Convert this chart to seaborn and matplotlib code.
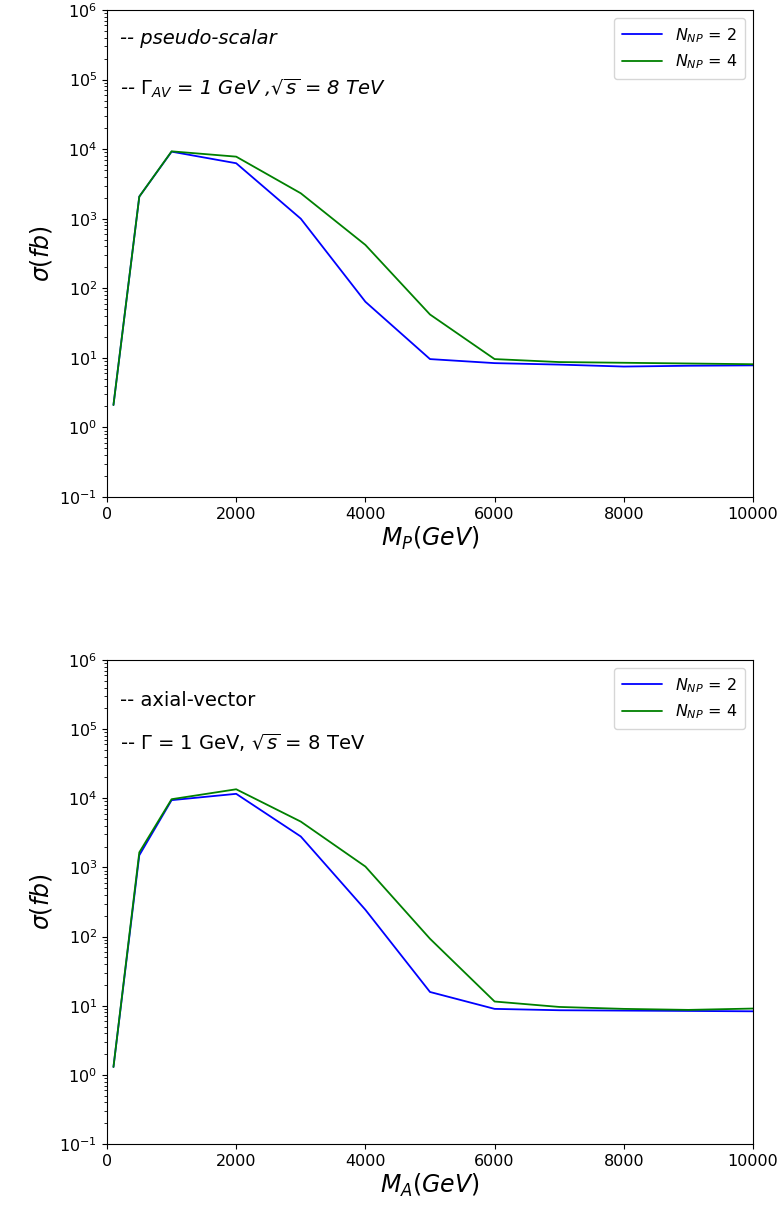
import numpy as np
import pandas as pd
import matplotlib
matplotlib.use("Agg")
import matplotlib.pyplot as plt
import seaborn as sns

mass = [100, 500, 1000, 2000, 3000, 4000, 5000, 6000, 7000, 8000, 9000, 10000]
pseudo_np2 = [2.1, 2080, 9200, 6270, 1000, 64, 9.6, 8.4, 8.0, 7.5, 7.7, 7.8]
pseudo_np4 = [2.1, 2080, 9300, 7800, 2320, 420, 42, 9.6, 8.7, 8.5, 8.3, 8.1]
axial_np2 = [1.3, 1500, 9400, 11600, 2800, 244, 15.8, 9.0, 8.6, 8.5, 8.4, 8.3]
axial_np4 = [1.3, 1650, 9700, 13500, 4600, 1030, 93, 11.5, 9.6, 9.0, 8.7, 9.1]
labels = [r'$N_{NP}$ = 2', r'$N_{NP}$ = 4']
colors = ['blue', 'green']
xticks = [0, 2000, 4000, 6000, 8000, 10000]

sns.set_style("ticks")
plt.rcParams['font.family'] = ['DejaVu Sans']
plt.rcParams['mathtext.fontset'] = 'dejavusans'
plt.rcParams['text.color'] = 'black'
plt.rcParams['axes.labelcolor'] = 'black'
plt.rcParams['xtick.color'] = 'black'
plt.rcParams['ytick.color'] = 'black'

W, H = 784, 1216
fig = plt.figure(figsize=(W / 100, H / 100), dpi=100)
ax1 = fig.add_axes([107 / W, 1 - 497 / H, 646 / W, 487 / H])
ax2 = fig.add_axes([107 / W, 1 - 1144 / H, 646 / W, 484 / H])


def make_df(a, b):
    return pd.DataFrame({
        'mass': mass + mass,
        'sigma': a + b,
        'series': [labels[0]] * len(mass) + [labels[1]] * len(mass),
    })


def draw(ax, df, xlabel, line1, line2, y1, y2, style):
    sns.lineplot(data=df, x='mass', y='sigma', hue='series', palette=colors,
                 estimator=None, linewidth=1.3, ax=ax, sort=False)
    ax.set_yscale('log')
    ax.set_ylim(0.1, 1e6)
    ax.set_xlim(0, 10000)
    ax.set_xticks(xticks)
    ax.set_xlabel(xlabel, fontsize=17, labelpad=2)
    ax.set_ylabel(r'$\sigma(fb)$', fontsize=17)
    ax.tick_params(axis='both', labelsize=11.5, direction='out')
    for s in ax.spines.values():
        s.set_visible(True)
        s.set_color('black')
    leg = ax.legend(loc='upper right', fontsize=11.5, frameon=True,
                    borderpad=0.5, handlelength=2.5)
    leg.get_frame().set_edgecolor('#cccccc')
    ax.text(0.02, y1, line1, transform=ax.transAxes, fontsize=14,
            va='center', style=style, color='black')
    ax.text(0.02, y2, line2, transform=ax.transAxes, fontsize=14,
            va='center', style=style, color='black')


draw(ax1, make_df(pseudo_np2, pseudo_np4), r'$M_P(GeV)$',
     '-- pseudo-scalar',
     r'-- $\Gamma_{AV}$ = 1 GeV ,$\sqrt{s}$ = 8 TeV',
     1 - (38 - 10) / 487, 1 - (88 - 10) / 487, 'italic')
draw(ax2, make_df(axial_np2, axial_np4), r'$M_A(GeV)$',
     '-- axial-vector',
     r'-- $\Gamma$ = 1 GeV, $\sqrt{s}$ = 8 TeV',
     1 - (700 - 660) / 484, 1 - (743 - 660) / 484, 'normal')

fig.savefig('out.png', dpi=100)
